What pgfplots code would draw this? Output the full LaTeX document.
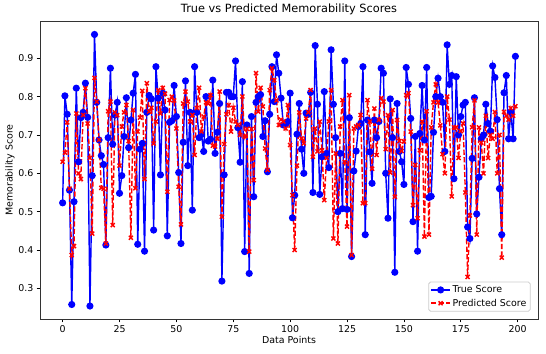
\documentclass[border=0pt]{standalone}
\usepackage{pgfplots}
\usepackage{pgfplotstable}
\pgfplotsset{compat=1.18}
\usepackage{fontspec}
\setmainfont{DejaVu Sans}
\pgfplotstableread{
i T P
0 0.523 0.630
1 0.802 0.654
2 0.754 0.733
3 0.556 0.560
4 0.258 0.387
5 0.526 0.410
6 0.822 0.756
7 0.630 0.600
8 0.745 0.585
9 0.759 0.752
10 0.835 0.822
11 0.746 0.730
12 0.254 0.640
13 0.594 0.443
14 0.962 0.849
15 0.785 0.787
16 0.687 0.687
17 0.646 0.562
18 0.623 0.560
19 0.413 0.417
20 0.693 0.762
21 0.874 0.787
22 0.676 0.465
23 0.752 0.759
24 0.785 0.752
25 0.548 0.620
26 0.594 0.722
27 0.696 0.759
28 0.797 0.778
29 0.667 0.684
30 0.739 0.432
31 0.809 0.765
32 0.858 0.561
33 0.415 0.709
34 0.663 0.745
35 0.678 0.815
36 0.397 0.585
37 0.759 0.835
38 0.803 0.761
39 0.794 0.771
40 0.452 0.678
41 0.878 0.735
42 0.796 0.817
43 0.596 0.756
44 0.809 0.823
45 0.765 0.808
46 0.437 0.552
47 0.733 0.791
48 0.737 0.800
49 0.829 0.790
50 0.748 0.717
51 0.602 0.565
52 0.417 0.467
53 0.681 0.782
54 0.841 0.813
55 0.620 0.787
56 0.759 0.735
57 0.504 0.752
58 0.878 0.648
59 0.759 0.770
60 0.693 0.823
61 0.702 0.709
62 0.657 0.748
63 0.800 0.785
64 0.684 0.782
65 0.689 0.804
66 0.843 0.672
67 0.652 0.670
68 0.707 0.690
69 0.782 0.813
70 0.319 0.487
71 0.596 0.676
72 0.811 0.754
73 0.811 0.778
74 0.800 0.709
75 0.800 0.771
76 0.893 0.735
77 0.719 0.726
78 0.629 0.700
79 0.839 0.800
80 0.396 0.696
81 0.726 0.716
82 0.339 0.396
83 0.748 0.716
84 0.539 0.582
85 0.785 0.861
86 0.800 0.761
87 0.805 0.823
88 0.696 0.774
89 0.737 0.665
90 0.604 0.609
91 0.754 0.817
92 0.878 0.874
93 0.787 0.843
94 0.909 0.790
95 0.861 0.726
96 0.796 0.740
97 0.726 0.735
98 0.728 0.717
99 0.735 0.778
100 0.809 0.674
101 0.484 0.543
102 0.543 0.400
103 0.702 0.620
104 0.782 0.759
105 0.663 0.691
106 0.600 0.678
107 0.757 0.743
108 0.754 0.759
109 0.811 0.817
110 0.550 0.643
111 0.933 0.717
112 0.780 0.657
113 0.545 0.735
114 0.643 0.660
115 0.813 0.530
116 0.652 0.640
117 0.615 0.735
118 0.922 0.817
119 0.780 0.430
120 0.693 0.652
121 0.500 0.417
122 0.652 0.722
123 0.508 0.791
124 0.893 0.630
125 0.506 0.461
126 0.745 0.804
127 0.383 0.387
128 0.606 0.717
129 0.658 0.722
130 0.722 0.726
131 0.730 0.752
132 0.878 0.522
133 0.440 0.522
134 0.739 0.791
135 0.656 0.735
136 0.574 0.612
137 0.739 0.769
138 0.693 0.648
139 0.735 0.739
140 0.874 0.796
141 0.861 0.787
142 0.600 0.663
143 0.483 0.752
144 0.794 0.602
145 0.693 0.765
146 0.342 0.539
147 0.782 0.739
148 0.657 0.684
149 0.630 0.658
150 0.571 0.683
151 0.876 0.804
152 0.832 0.809
153 0.743 0.709
154 0.474 0.517
155 0.696 0.622
156 0.397 0.483
157 0.704 0.660
158 0.829 0.735
159 0.687 0.435
160 0.876 0.762
161 0.537 0.440
162 0.540 0.720
163 0.707 0.785
164 0.800 0.832
165 0.848 0.785
166 0.800 0.725
167 0.785 0.650
168 0.657 0.600
169 0.935 0.800
170 0.832 0.740
171 0.855 0.540
172 0.586 0.720
173 0.852 0.720
174 0.700 0.640
175 0.748 0.710
176 0.778 0.730
177 0.785 0.550
178 0.460 0.330
179 0.430 0.490
180 0.639 0.720
181 0.797 0.790
182 0.494 0.440
183 0.590 0.720
184 0.690 0.680
185 0.700 0.600
186 0.780 0.750
187 0.730 0.640
188 0.710 0.700
189 0.880 0.690
190 0.850 0.760
191 0.740 0.600
192 0.560 0.700
193 0.440 0.380
194 0.810 0.760
195 0.855 0.750
196 0.690 0.740
197 0.760 0.770
198 0.690 0.750
199 0.905 0.775
}\datatable
\begin{document}
\begin{tikzpicture}
\useasboundingbox (-42.2bp,-35.9bp) rectangle (533.8bp,336.6bp);
\begin{axis}[
  at={(0,0)}, anchor=south west,
  scale only axis, width=525.4bp, height=314.4bp,
  xmin=-9.95, xmax=208.95, ymin=0.22, ymax=0.997,
  xtick={0,25,...,200}, ytick={0.3,0.4,...,0.9},
  yticklabel style={/pgf/number format/.cd, fixed, fixed zerofill, precision=1},
  /pgf/number format/assume math mode=true,
  tick label style={font=\fontsize{10}{12}\selectfont},
  label style={font=\fontsize{10}{12}\selectfont},
  title style={font=\fontsize{12}{14}\selectfont, yshift=-3pt},
  title={True vs Predicted Memorability Scores},
  xlabel={Data Points}, ylabel={Memorability Score},
  xlabel style={yshift=3pt}, ylabel style={yshift=-3pt},
  tick align=outside, xtick pos=bottom, ytick pos=left,
  major tick length=3.5pt,
  every tick/.style={black, line width=0.8pt},
  axis line style={line width=0.8pt, black!80},
  legend pos=south east,
  legend style={font=\fontsize{10}{12}\selectfont, draw=black!20, rounded corners=2pt, line width=0.8pt, inner sep=2pt, row sep=1pt, at={(0.985,0.025)}},
  legend cell align=left,
  legend image code/.code={\draw[mark repeat=2,mark phase=2,#1] plot coordinates {(0cm,0cm) (0.35cm,0cm) (0.7cm,0cm)};},
]
\addplot[blue, line width=1.5pt, mark=*, mark size=3pt] table[x=i, y=T] {\datatable};
\addlegendentry{True Score}
\addplot[red, line width=1.5pt, dash pattern=on 5.5pt off 2.4pt, mark=x, mark size=3pt, mark options={solid}] table[x=i, y=P] {\datatable};
\addlegendentry{Predicted Score}
\end{axis}
\end{tikzpicture}
\end{document}
